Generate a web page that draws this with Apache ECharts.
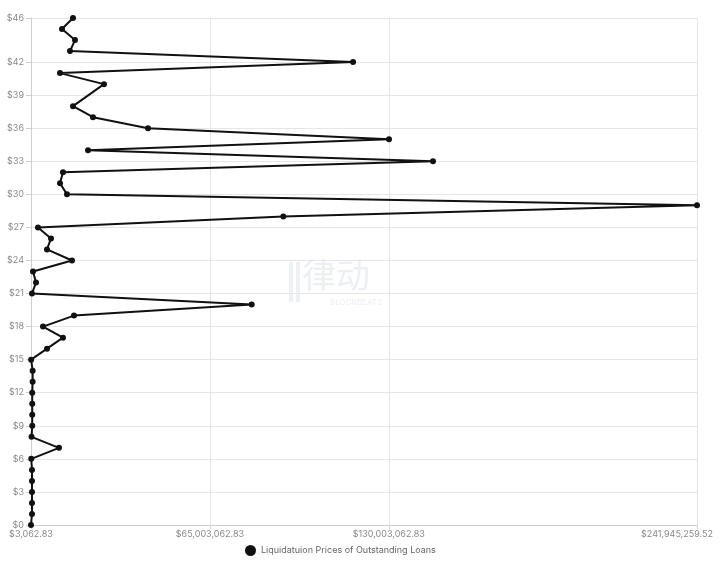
<!DOCTYPE html>
<html>
<head>
<meta charset="utf-8">
<script src="https://cdn.jsdelivr.net/npm/echarts@6/dist/echarts.min.js"></script>
<style>html,body{margin:0;padding:0;background:#fff}#c{width:720px;height:581px}</style>
</head>
<body>
<div id="c"></div>
<script>
// Y categories: liquidation price levels
var priceCategories = [];
for (var i = 0; i <= 46; i++) priceCategories.push('$' + i);
// Y tick labels shown
var yTickLabels = ['$0','$3','$6','$9','$12','$15','$18','$21','$24','$27','$30','$33','$36','$39','$42','$46'];
// X tick values
var xTickValues = [3062.83, 65003062.83, 130003062.83, 241945259.52];
var xMin = 3062.83, xMax = 241945259.52;
// Points: price level and outstanding loan amount
var pricePoints = [46,45,44,43,42,41,40,38,37,36,35,34,33,32,31,30,29,28,27,26,25,24,23,22,21,20,19,18,17,16,15,14,13,12,11,10,9,8,7,6,5,4,3,2,1,0];
var loanAmounts = [15260000,11260000,15980000,14170000,117000000,10540000,26520000,15260000,22520000,42500000,130050000,20710000,146040000,11620000,10540000,13080000,241945259.52,91660000,2540000,7270000,5810000,14890000,730000,1820000,360000,80170000,15620000,4360000,11620000,5810000,50000,600000,600000,450000,450000,450000,450000,200000,10170000,100000,360000,360000,360000,360000,360000,3062.83];
var seriesName = 'Liquidatuion Prices of Outstanding Loans';

var data = pricePoints.map(function (p, k) { return [loanAmounts[k], '$' + p]; });

function fmtMoney(v) {
  return '$' + Number(v).toLocaleString('en-US', {minimumFractionDigits: 2, maximumFractionDigits: 2});
}
function showY(idx) { return yTickLabels.indexOf(priceCategories[idx]) >= 0; }

var chart = echarts.init(document.getElementById('c'), null, {renderer: 'canvas'});
var font = 'Inter, "Noto Sans", sans-serif';
chart.setOption({
  backgroundColor: '#ffffff',
  animation: false,
  textStyle: {fontFamily: font},
  grid: {left: 31, right: 23, top: 18, bottom: 56, containLabel: false},
  xAxis: {
    type: 'value', min: xMin, max: xMax,
    axisLine: {show: true, lineStyle: {color: '#cfcfcf'}},
    axisTick: {show: true, length: 4, lineStyle: {color: '#cfcfcf'}, customValues: xTickValues},
    axisLabel: {
      customValues: xTickValues, color: '#8a8a8a', fontSize: 9, margin: 5, fontFamily: font,
      formatter: function (v) {
        var s = fmtMoney(v);
        if (Math.abs(v - xMax) < 1) return '{m|' + s + '}';
        return s;
      },
      rich: {m: {color: '#8a8a8a', fontSize: 9, fontFamily: font, padding: [0, 40, 0, 0]}}
    },
    splitLine: {show: true, lineStyle: {color: '#e6e6e6'}}
  },
  yAxis: {
    type: 'category', data: priceCategories, boundaryGap: false,
    axisLine: {show: true, lineStyle: {color: '#cfcfcf'}},
    axisTick: {show: true, length: 5, interval: function (idx) { return showY(idx); }, lineStyle: {color: '#cfcfcf'}},
    axisLabel: {show: true, color: '#8a8a8a', fontSize: 9, margin: 7, fontFamily: font,
      interval: function (idx) { return showY(idx); }},
    splitLine: {show: true, interval: function (idx) { return showY(idx); }, lineStyle: {color: '#e6e6e6'}}
  },
  legend: {
    bottom: 20, left: 240, icon: 'circle', itemWidth: 11, itemHeight: 11, itemGap: 5,
    textStyle: {color: '#666', fontSize: 9, fontFamily: font},
    data: [seriesName]
  },
  graphic: [
    {type: 'text', left: 302, top: 258, silent: true, z: 0,
      style: {text: '律动', fontSize: 34, fill: 'rgba(170,180,200,0.22)', fontFamily: '"Noto Sans CJK SC", sans-serif'}},
    {type: 'text', left: 330, top: 299, silent: true, z: 0,
      style: {text: 'BLOCKBEATS', fontSize: 8, fill: 'rgba(170,180,200,0.22)', fontFamily: font}},
    {type: 'rect', left: 289, top: 262, silent: true, z: 0, shape: {width: 4, height: 40}, style: {fill: 'rgba(150,170,220,0.18)'}},
    {type: 'rect', left: 296, top: 262, silent: true, z: 0, shape: {width: 4, height: 40}, style: {fill: 'rgba(150,170,220,0.18)'}}
  ],
  series: [{
    name: seriesName, type: 'line', data: data,
    symbol: 'circle', symbolSize: 6, showSymbol: true,
    itemStyle: {color: '#111'},
    lineStyle: {color: '#111', width: 2},
    z: 5
  }]
});
</script>
</body>
</html>
